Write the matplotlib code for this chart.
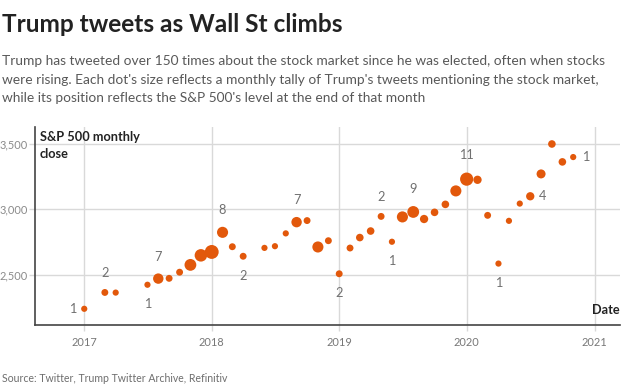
import matplotlib
matplotlib.use("Agg")
import matplotlib.pyplot as plt
import pandas as pd
from matplotlib.ticker import FuncFormatter

# ---- data ----
months = ["2016-12", "2017-02", "2017-03", "2017-06", "2017-07", "2017-08", "2017-09",
          "2017-10", "2017-11", "2017-12", "2018-01", "2018-02", "2018-03", "2018-05",
          "2018-06", "2018-07", "2018-08", "2018-09", "2018-10", "2018-11", "2018-12",
          "2019-01", "2019-02", "2019-03", "2019-04", "2019-05", "2019-06", "2019-07",
          "2019-08", "2019-09", "2019-10", "2019-11", "2019-12", "2020-01", "2020-02",
          "2020-03", "2020-04", "2020-05", "2020-06", "2020-07", "2020-08", "2020-09",
          "2020-10"]
close = [2239, 2364, 2363, 2423, 2470, 2472, 2519,
         2575, 2648, 2674, 2824, 2714, 2641, 2705,
         2718, 2816, 2902, 2914, 2712, 2760, 2507,
         2704, 2784, 2834, 2946, 2752, 2942, 2980,
         2926, 2977, 3038, 3141, 3231, 3226, 2954,
         2585, 2912, 3044, 3100, 3271, 3500, 3363,
         3400]
tweets = [1, 2, 1, 1, 7, 2, 2,
          9, 10, 12, 8, 2, 2, 1,
          1, 1, 7, 2, 8, 2, 2,
          2, 3, 3, 2, 1, 8, 9,
          4, 3, 3, 8, 11, 4, 2,
          1, 1, 1, 4, 5, 3, 3,
          1]
labeled = {"2016-12": "left", "2017-02": "above", "2017-06": "below", "2017-07": "above",
           "2018-01": "above", "2018-03": "below", "2018-08": "above", "2018-12": "below",
           "2019-04": "above", "2019-05": "below", "2019-07": "above", "2019-12": "above",
           "2020-03": "below", "2020-06": "right", "2020-10": "right"}
year_ticks = ["2017", "2018", "2019", "2020", "2021"]
y_ticks = [2500, 3000, 3500]

title = "Trump tweets as Wall St climbs"
subtitle_lines = [
    "Trump has tweeted over 150 times about the stock market since he was elected, often when stocks",
    "were rising. Each dot's size reflects a monthly tally of Trump's tweets mentioning the stock market,",
    "while its position reflects the S&P 500's level at the end of that month",
]
source = "Source: Twitter, Trump Twitter Archive, Refinitiv"

# ---- style ----
FONT = "Lato"
plt.rcParams["font.family"] = [FONT, "DejaVu Sans"]
ORANGE = "#e2580b"
GRID = "#d9d9d9"

fig = plt.figure(figsize=(6.3, 3.92), dpi=100)
fig.patch.set_facecolor("white")
ax = fig.add_axes([35 / 630, 1 - 325 / 392, 585 / 630, 198 / 392])

dates = [pd.Period(m, freq="M").to_timestamp(how="end") for m in months]
sizes = [((5.5 + 0.7 * n) * 0.72) ** 2 for n in tweets]
ax.scatter(dates, close, s=sizes, color=ORANGE, linewidths=0, zorder=3)

offsets = {"above": (0, 9, "center", "bottom"), "below": (0, -9, "center", "top"),
           "left": (-6, 0, "right", "center"), "right": (6, 0, "left", "center")}
for m, d, c, n in zip(months, dates, close, tweets):
    if m in labeled:
        dx, dy, ha, va = offsets[labeled[m]]
        if labeled[m] in ("above", "below"):
            dy = dy + (0.35 * n if dy > 0 else -0.35 * n)
        ax.annotate(str(n), (d, c), xytext=(dx, dy), textcoords="offset points",
                    ha=ha, va=va, fontsize=9.2, color="#707070")

xt = [pd.Timestamp(f"{y}-01-01") for y in year_ticks]
ax.set_xticks(xt)
ax.set_xticklabels(year_ticks)
ax.set_xlim(pd.Timestamp("2016-08-13"), pd.Timestamp("2021-03-15"))
ax.set_yticks(y_ticks)
ax.yaxis.set_major_formatter(FuncFormatter(lambda v, p: f"{int(v):,}"))
ax.set_ylim(2115, 3630)

ax.grid(True, color=GRID, linewidth=1.0, zorder=0)
ax.tick_params(axis="both", colors=GRID, length=4, width=1.0, labelsize=7.9,
               labelcolor="#8a8a8a", pad=1)
ax.tick_params(axis="x", pad=5, labelcolor="#777777")
for s in ["top", "right"]:
    ax.spines[s].set_visible(False)
for s in ["left", "bottom"]:
    ax.spines[s].set_color("#444444")
    ax.spines[s].set_linewidth(1.2)
ax.set_axisbelow(True)

fig.text(40 / 630, 1 - 141 / 392, "S&P 500 monthly", ha="left", va="baseline",
         fontsize=9.2, fontweight="bold", color="#222222")
fig.text(40 / 630, 1 - 158.5 / 392, "close", ha="left", va="baseline",
         fontsize=9.2, fontweight="bold", color="#222222")
ax.text(1.0, 0.045, "Date", transform=ax.transAxes, ha="right", va="bottom",
        fontsize=9.2, fontweight="bold", color="#222222")

fig.text(2 / 630, 1 - 32 / 392, title, ha="left", va="baseline", fontsize=17.6,
         fontweight="bold", color="#222222")
for i, line in enumerate(subtitle_lines):
    fig.text(2 / 630, 1 - (65 + 18.5 * i) / 392, line, ha="left", va="baseline",
             fontsize=9.9, color="#595959")
fig.text(2 / 630, 1 - 382 / 392, source, ha="left", va="baseline", fontsize=7.6,
         color="#6e6e6e")

fig.savefig("out.png", dpi=100)
